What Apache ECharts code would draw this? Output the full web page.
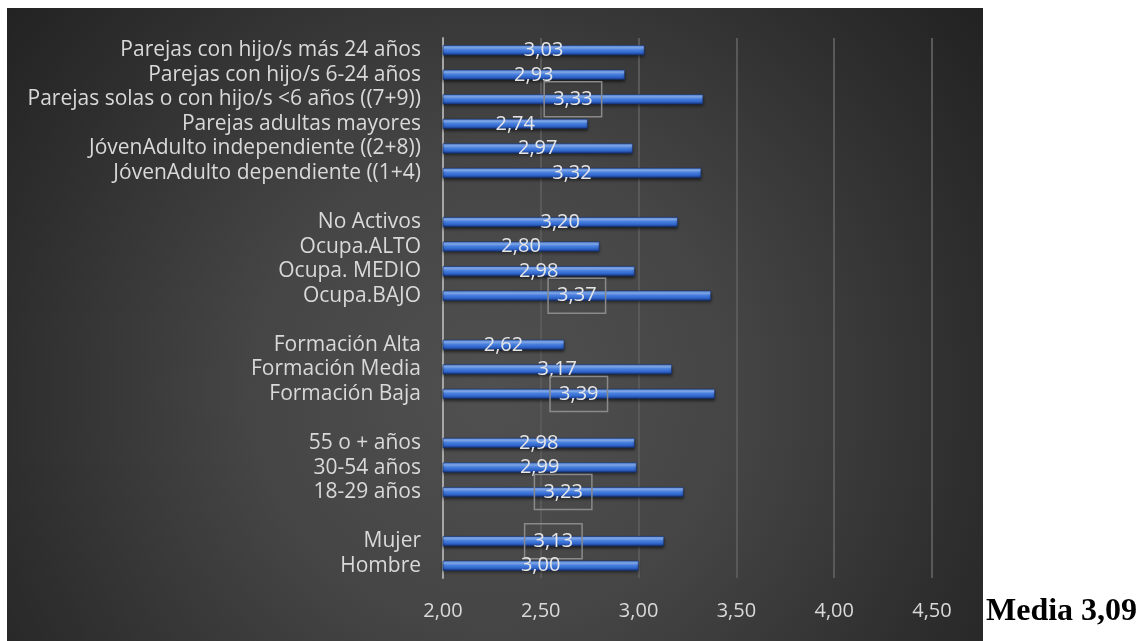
<!DOCTYPE html>
<html>
<head>
<meta charset="utf-8">
<script src="https://cdn.jsdelivr.net/npm/echarts@6/dist/echarts.min.js"></script>
<style>
  html, body { margin: 0; padding: 0; background: #ffffff; }
  #chart { width: 1147px; height: 641px; }
</style>
</head>
<body>
<div id="chart"></div>
<script>
// Categories, top to bottom; blank entries separate the groups
const categories = [
  'Parejas con hijo/s más 24 años',
  'Parejas con hijo/s 6-24 años',
  'Parejas solas o con hijo/s <6 años ((7+9))',
  'Parejas adultas mayores',
  'JóvenAdulto independiente ((2+8))',
  'JóvenAdulto dependiente ((1+4)',
  ' ',
  'No Activos',
  'Ocupa.ALTO',
  'Ocupa. MEDIO',
  'Ocupa.BAJO',
  '  ',
  'Formación Alta',
  'Formación Media',
  'Formación Baja',
  '   ',
  '55 o + años',
  '30-54 años',
  '18-29 años',
  '    ',
  'Mujer',
  'Hombre'
];

// Mean scores per category (null = group separator)
const values = [
  3.03, 2.93, 3.33, 2.74, 2.97, 3.32,
  null,
  3.20, 2.80, 2.98, 3.37,
  null,
  2.62, 3.17, 3.39,
  null,
  2.98, 2.99, 3.23,
  null,
  3.13, 3.00
];

// Highest value within each group, shown with a framed label
const framed = [
  'Parejas solas o con hijo/s <6 años ((7+9))',
  'Ocupa.BAJO',
  'Formación Baja',
  '18-29 años',
  'Mujer'
];

const xTicks = { min: 2, max: 4.5, interval: 0.5 };
const overallMean = 3.09;

const fmt = v => v.toFixed(2).replace('.', ',');
const FONT = '"Open Sans", "Noto Sans", sans-serif';

const barFill = new echarts.graphic.LinearGradient(0, 0, 0, 1, [
  { offset: 0, color: '#5f93ec' },
  { offset: 0.25, color: '#8ab4fa' },
  { offset: 0.45, color: '#4a84e6' },
  { offset: 0.75, color: '#2e62c6' },
  { offset: 1, color: '#163276' }
]);

const seriesData = values.map((v, i) => {
  if (v === null) return null;
  const item = { value: v };
  if (framed.includes(categories[i])) {
    item.label = {
      borderColor: '#8a8a8a',
      borderWidth: 1.5,
      padding: [8, 9, 7, 9]
    };
  }
  return item;
});

const chart = echarts.init(document.getElementById('chart'), null, { renderer: 'canvas' });

chart.setOption({
  backgroundColor: '#ffffff',
  animation: false,
  graphic: [
    {
      type: 'rect',
      z: -10,
      silent: true,
      shape: { x: 7, y: 8, width: 976, height: 633 },
      style: {
        fill: new echarts.graphic.RadialGradient(490, 390, 690, [
          { offset: 0, color: '#505050' },
          { offset: 0.35, color: '#454545' },
          { offset: 0.7, color: '#2e2e2e' },
          { offset: 1, color: '#1c1c1c' }
        ], true)
      }
    },
    {
      type: 'text',
      left: 986,
      top: 596,
      style: {
        text: 'Media ' + fmt(overallMean),
        font: 'bold 32px "Liberation Serif", "Times New Roman", serif',
        fill: '#000000'
      }
    }
  ],
  grid: { left: 443, right: 215, top: 38, bottom: 63, containLabel: false },
  xAxis: {
    type: 'value',
    min: xTicks.min,
    max: xTicks.max,
    interval: xTicks.interval,
    axisLine: { show: false },
    axisTick: { show: false },
    splitLine: { show: true, lineStyle: { color: '#595959', width: 2 } },
    axisLabel: {
      color: '#d9d9d9',
      fontFamily: FONT,
      fontSize: 20,
      margin: 23,
      formatter: v => fmt(v)
    }
  },
  yAxis: {
    type: 'category',
    inverse: true,
    data: categories,
    axisLine: { show: true, lineStyle: { color: '#a6a6a6', width: 2 } },
    axisTick: { show: false },
    splitLine: { show: false },
    axisLabel: {
      interval: 0,
      hideOverlap: false,
      color: '#d9d9d9',
      fontFamily: FONT,
      fontSize: 21,
      margin: 22
    }
  },
  series: [
    {
      type: 'bar',
      data: seriesData,
      barWidth: 10,
      itemStyle: {
        color: barFill,
        borderColor: '#14306e',
        borderWidth: 0.6,
        shadowColor: 'rgba(0,0,0,0.55)',
        shadowBlur: 3,
        shadowOffsetY: 2
      },
      label: {
        show: true,
        position: 'inside',
        color: '#e6e6e6',
        fontFamily: FONT,
        fontSize: 20,
        formatter: p => fmt(p.value)
      }
    }
  ]
});
</script>
</body>
</html>
